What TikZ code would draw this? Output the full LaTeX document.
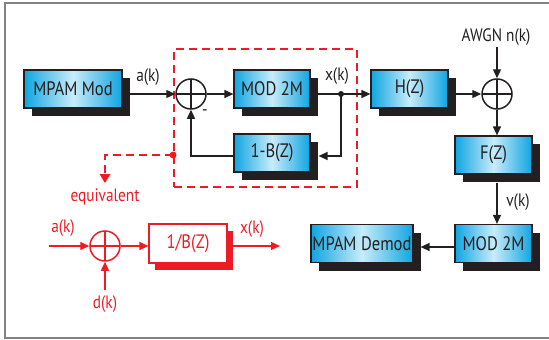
\documentclass[tikz,border=0pt]{standalone}
\usepackage{fontspec}
\setmainfont{PT Sans}[FakeStretch=0.85]
\usetikzlibrary{arrows.meta,calc,shadows}
\definecolor{ink}{RGB}{35,31,32}
\definecolor{myred}{RGB}{237,28,36}
\definecolor{bdark}{RGB}{15,165,225}
\definecolor{blight}{RGB}{200,236,250}
\definecolor{framegray}{RGB}{130,130,130}
\tikzset{
  blk/.style={draw=ink, line width=1.2pt, left color=bdark, right color=bdark, middle color=blight,
    minimum height=38pt, inner sep=0pt, font=\fontsize{19.5}{19.5}\selectfont, text=ink,
    drop shadow={shadow xshift=8pt, shadow yshift=-8pt, opacity=1, fill=ink}},
  ebox/.style={draw=myred, fill=white, line width=1.2pt, minimum height=39pt, inner sep=0pt,
    font=\fontsize{19.5}{19.5}\selectfont, text=myred,
    drop shadow={shadow xshift=6pt, shadow yshift=-7pt, opacity=1, fill=myred}},
  sumnode/.style={circle, draw=#1, line width=1.5pt, minimum size=30pt, inner sep=0pt,
    path picture={\draw[#1, line width=1.2pt] (path picture bounding box.north) -- (path picture bounding box.south)
      (path picture bounding box.west) -- (path picture bounding box.east);}},
  lbl/.style={font=\fontsize{18}{18}\selectfont, text=ink, inner sep=1pt},
  rlbl/.style={font=\fontsize{18}{18}\selectfont, text=myred, inner sep=1pt},
  conn/.style={draw=ink, line width=1.3pt, -{Triangle[length=9pt,width=8pt]}},
  rconn/.style={draw=myred, line width=1.3pt, -{Triangle[length=9pt,width=8pt]}},
  rdash/.style={draw=myred, line width=1.8pt, dash pattern=on 8pt off 5pt},
}
\begin{document}
\begin{tikzpicture}[x=1pt,y=-1pt]
\useasboundingbox (0,0) rectangle (549,340);
\draw[framegray, line width=2pt] (549,3) -- (5,3) -- (5,338) -- (549,338);

% red group box
\node[rdash, minimum width=183pt, minimum height=138pt, inner sep=0pt] (grp) at (265.5,118) {};

% blocks
\node[blk, minimum width=98pt] (mpam) at (73,89) {MPAM Mod};
\node[sumnode=ink] (s1) at (191,94) {};
\node[blk, minimum width=76pt] (mod1) at (272,89) {MOD 2M};
\node[blk, minimum width=76pt] (fb) at (272,153) {1-B(Z)};
\node[blk, minimum width=77pt] (hz) at (409.5,89) {H(Z)};
\node[sumnode=ink] (s2) at (497,94) {};
\node[blk, minimum width=77pt] (fz) at (493.5,155) {F(Z)};
\node[blk, minimum width=77pt] (mod2) at (493.5,243.5) {MOD 2M};
\node[blk, minimum width=102pt] (dem) at (362,243.5) {MPAM Demod};
\coordinate (j) at (341,94);

% labels
\node[lbl] (awgn) at (496,37) {AWGN n(k)};
\node[lbl] (ak) at (148,77) {a(k)};
\node[lbl] (xk) at (337,76) {x(k)};
\node[lbl] (minus) at (205,113) {-};
\node[lbl] (vk) at (518,202) {v(k)};

% connectors
\draw[conn] ($(mpam.east |- s1.west)+(6,0)$) -- (s1.west);
\draw[conn] (s1.east) -- (s1.east -| mod1.west);
\draw[conn] ($(mod1.east |- j)+(7,0)$) -- (j) -- (j -| hz.west);
\fill[ink] (j) circle (3);
\draw[conn] (j) |- ($(fb.east)+(8,3)$);
\draw[conn] ($(fb.west)+(0,3)$) -| (s1.south);
\draw[conn] ($(hz.east |- s2.west)+(7,0)$) -- (s2.west);
\draw[conn] (awgn.south -| s2.north) -- (s2.north);
\draw[conn] (s2.south) -- (s2.south |- fz.north);
\draw[conn] ($(s2.south |- fz.south)+(0,8)$) -- (s2.south |- mod2.north);
\draw[conn] ($(mod2.west)+(0,3.5)$) -- ($(dem.east)+(7,3.5)$);

% equivalent path
\coordinate (rd) at (grp.west |- 0,155);
\node[rlbl] (eq) at (105,197) {equivalent};
\coordinate (eqtip) at (105,183);
\draw[rdash] (rd) -| ($(eqtip)+(0,-8)$);
\fill[myred] (rd) circle (3.5);
\fill[myred] ($(eqtip)+(-5.5,-9)$) -- ($(eqtip)+(5.5,-9)$) -- (eqtip) -- cycle;

% lower equivalent diagram
\node[sumnode=myred] (s3) at (105,246) {};
\coordinate (ain) at (49,246);
\node[rlbl] (ak2) at (63,228) {a(k)};
\node[rlbl] (dk) at (105,304) {d(k)};
\coordinate (din) at (105,290);
\node[ebox, minimum width=78pt] (eb) at (188,243.5) {1/B(Z)};
\coordinate (xo) at (280,246);
\node[rlbl] (xk2) at (252,229) {x(k)};
\draw[rconn] (ain) -- (s3.west);
\draw[rconn] (din) -- (s3.south);
\draw[rconn] (s3.east) -- (s3.east -| eb.west);
\draw[rconn] ($(eb.east |- s3.east)+(5,0)$) -- (xo);
\end{tikzpicture}
\end{document}
